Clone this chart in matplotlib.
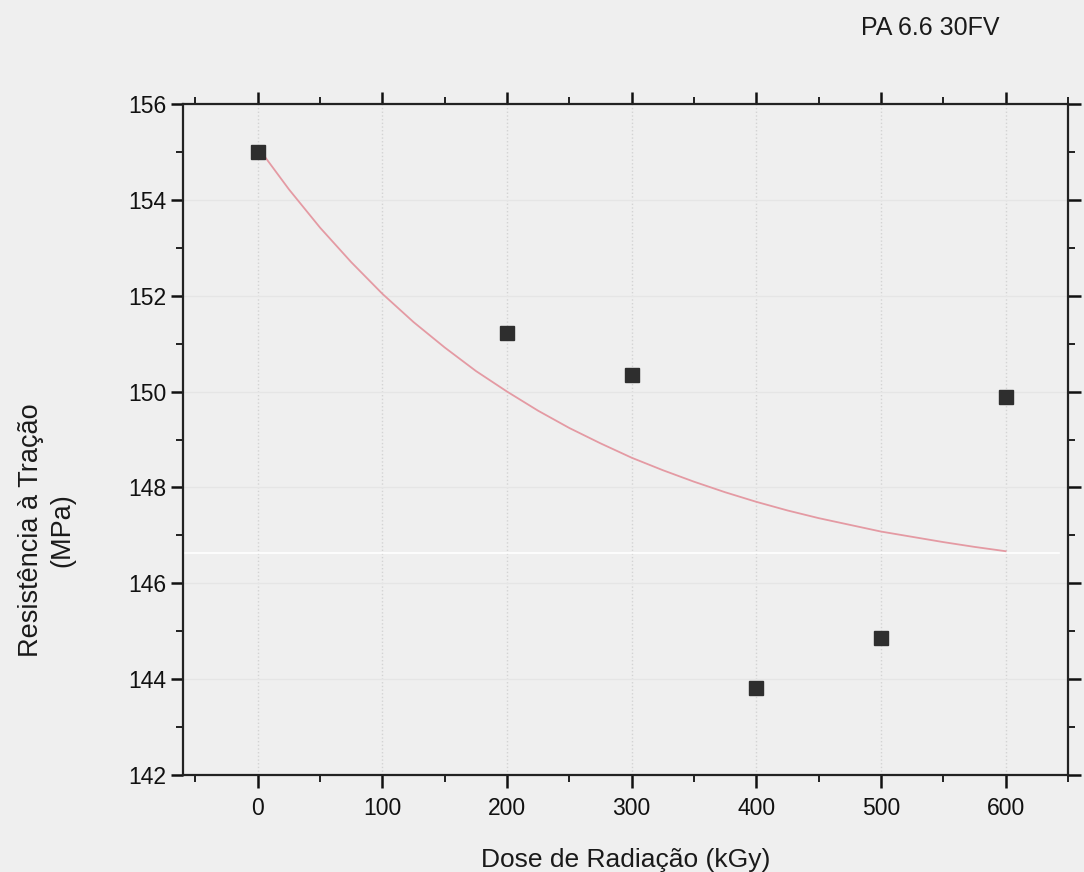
import matplotlib
matplotlib.use("Agg")
import matplotlib.pyplot as plt
from matplotlib.ticker import MultipleLocator

plt.rcParams['font.family'] = ['Liberation Sans', 'DejaVu Sans']

# measured data
dose = [0, 200, 300, 400, 500, 600]
resist = [155.0, 151.22, 150.35, 143.82, 144.85, 149.88]

# fitted curve
curve_x = [0, 25, 50, 75, 100, 125, 150, 175, 200, 225, 250, 275, 300,
           325, 350, 375, 400, 425, 450, 475, 500, 525, 550, 575, 600]
curve_y = [155.10, 154.22, 153.42, 152.70, 152.04, 151.45, 150.92, 150.43,
           150.00, 149.60, 149.24, 148.92, 148.62, 148.36, 148.12, 147.90,
           147.70, 147.52, 147.36, 147.22, 147.08, 146.97, 146.86, 146.76,
           146.67]

xticks = [0, 100, 200, 300, 400, 500, 600]
yticks = [142, 144, 146, 148, 150, 152, 154, 156]

bg = '#efefef'
fig = plt.figure(figsize=(10.84, 8.72), dpi=100, facecolor=bg)
ax = fig.add_axes([0.1688, 0.1112, 0.9852 - 0.1688, 0.8807 - 0.1112])
ax.set_facecolor(bg)

ax.set_xlim(-60, 650)
ax.set_ylim(142, 156)
ax.set_xticks(xticks)
ax.set_yticks(yticks)
ax.xaxis.set_minor_locator(MultipleLocator(50))
ax.yaxis.set_minor_locator(MultipleLocator(1))

ax.grid(True, which='major', axis='x', color='#d3d3d3', linestyle=':', linewidth=1.0)
ax.grid(True, which='major', axis='y', color='#e5e5e5', linestyle='-', linewidth=1.0)

ax.plot(curve_x, curve_y, color='#e49aa3', linewidth=1.3, zorder=3)
ax.axhline(146.63, xmin=0.0, xmax=0.99, color='white', linewidth=1.2, zorder=2)
ax.plot(dose, resist, linestyle='none', marker='s', markersize=9.5,
        color='#2e2e2e', zorder=4)

for s in ax.spines.values():
    s.set_color('#222222')
    s.set_linewidth(1.6)

ax.tick_params(which='both', direction='out', top=True, right=True,
               labelsize=16.5, colors='#111111')
ax.tick_params(which='major', length=9, width=1.8)
ax.tick_params(which='minor', length=5, width=1.3)
ax.tick_params(axis='x', pad=7)
ax.tick_params(axis='y', pad=3)

ax.set_xlabel('Dose de Radiação (kGy)', fontsize=19, color='#1a1a1a', labelpad=20)
fig.text(47 / 1084, 1 - 530 / 872, 'Resistência à Tração\n(MPa)', rotation=90,
         ha='center', va='center', fontsize=19.5, color='#1a1a1a',
         multialignment='center', linespacing=1.25)
fig.text(930 / 1084, 1 - 28 / 872, 'PA 6.6 30FV', ha='center', va='center',
         fontsize=18, color='#1a1a1a')

fig.savefig('out.png', dpi=100, facecolor=bg)
